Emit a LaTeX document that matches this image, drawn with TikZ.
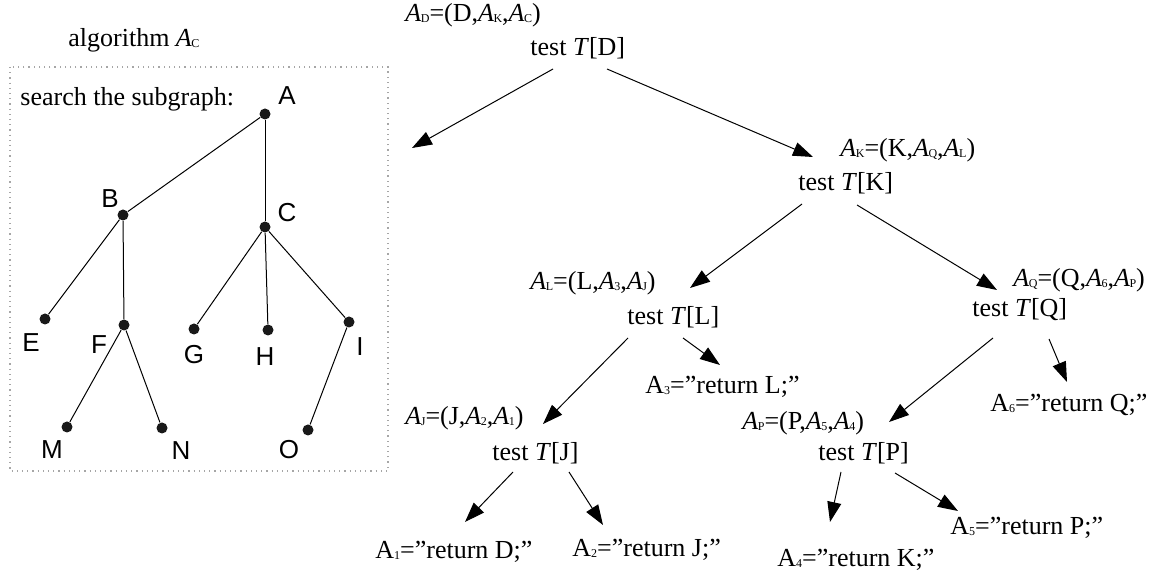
\documentclass[tikz,border=0pt]{standalone}
\usepackage{fontspec}
\setmainfont{Liberation Serif}
\newfontfamily\arialfont{Liberation Sans}
\usepackage{tikz}
\usetikzlibrary{arrows.meta}
% A with a small subscript letter
\newcommand{\Ait}[1]{\textit{A}\kern-0.02em\raisebox{-0.6pt}{\fontsize{6}{6}\selectfont #1}}
\newcommand{\Arm}[1]{A\raisebox{-0.6pt}{\fontsize{6}{6}\selectfont #1}}

\begin{document}
\begin{tikzpicture}[x=0.5pt, y=-0.5pt, font=\fontsize{13}{15}\selectfont,
	txt/.style={anchor=west, inner sep=0pt},
	vtx/.style={circle, fill=black!90, inner sep=0pt, minimum size=5.5pt},
	vlab/.style={inner sep=0pt, font=\arialfont\fontsize{13}{15}\selectfont},
	arr/.style={-{Triangle[length=10pt, width=7pt]}, line width=0.5pt}]
	\useasboundingbox (0,0) rectangle (1167,576);

	% the search algorithm A_C
	\node[txt] (algo) at (68,40) {algorithm \Ait{C}};
	\draw[gray!70, dotted, line width=0.6pt] (10,67) rectangle (388,471);
	\node[txt] (srch) at (20,99) {search the subgraph:};
	\foreach \v/\x/\y in {A/265/114, B/123/215, C/265/227, E/45/319, F/124/325,
		G/194/329, H/268/330, I/349/322, M/67/427, N/162/428, O/308/430}
		\node[vtx] (\v) at (\x,\y) {};
	\foreach \v/\x/\y in {A/287/96, B/110/199, C/287/213, E/31/343, F/99/345,
		G/194/355, H/265/357, I/360/347, M/52/450, N/181/451, O/289/450}
		\node[vlab] (l\v) at (\x,\y) {\v};
	\foreach \a/\b in {A/B, A/C, B/E, B/F, C/G, C/H, C/I, F/M, F/N, I/O}
		\draw[line width=0.5pt] (\a) -- (\b);

	% decision tree
	\node[txt] (aD) at (405,15) {\Ait{D}=(D,\Ait{K},\Ait{C})};
	\node[txt] (tD) at (530,48) {test \textit{T}[D]};
	\node[txt] (aK) at (840,150) {\Ait{K}=(K,\Ait{Q},\Ait{L})};
	\node[txt] (tK) at (798,183) {test \textit{T}[K]};
	\node[txt] (aL) at (530,283) {\Ait{L}=(L,\Ait{3},\Ait{J})};
	\node[txt] (tL) at (627,317) {test \textit{T}[L]};
	\node[txt] (aQ) at (1013,280) {\Ait{Q}=(Q,\Ait{6},\Ait{P})};
	\node[txt] (tQ) at (972,310) {test \textit{T}[Q]};
	\node[txt] (aJ) at (405,418) {\Ait{J}=(J,\Ait{2},\Ait{1})};
	\node[txt] (tJ) at (492,453) {test \textit{T}[J]};
	\node[txt] (aP) at (742,423) {\Ait{P}=(P,\Ait{5},\Ait{4})};
	\node[txt] (tP) at (818,453) {test \textit{T}[P]};
	\node[txt] (r3) at (645,387) {\Arm{3}=”return L;”};
	\node[txt] (r6) at (990,405) {\Arm{6}=”return Q;”};
	\node[txt] (r1) at (375,552) {\Arm{1}=”return D;”};
	\node[txt] (r2) at (572,550) {\Arm{2}=”return J;”};
	\node[txt] (r4) at (777,560) {\Arm{4}=”return K;”};
	\node[txt] (r5) at (950,528) {\Arm{5}=”return P;”};
	\coordinate (open) at (412,148);

	\draw[arr] ([shift={(23,21)}]tD.west) -- (open);
	\draw[arr] ([shift={(77,21)}]tD.west) -- ([shift={(15,-26)}]tK.west);
	\draw[arr] ([shift={(4,21)}]tK.west) -- ([shift={(63,-29)}]tL.west);
	\draw[arr] ([shift={(59,22)}]tK.west) -- ([shift={(25,-20)}]tQ.west);
	\draw[arr] ([shift={(1,21)}]tL.west) -- ([shift={(51,-29)}]tJ.west);
	\draw[arr] ([shift={(56,21)}]tL.west) -- ([shift={(75,-22)}]r3.west);
	\draw[arr] ([shift={(21,28)}]tQ.west) -- ([shift={(71,-31)}]tP.west);
	\draw[arr] ([shift={(77,29)}]tQ.west) -- ([shift={(77,-23)}]r6.west);
	\draw[arr] ([shift={(21,19)}]tJ.west) -- ([shift={(90,-30)}]r1.west);
	\draw[arr] ([shift={(77,19)}]tJ.west) -- ([shift={(31,-25)}]r2.west);
	\draw[arr] ([shift={(23,19)}]tP.west) -- ([shift={(53,-38)}]r4.west);
	\draw[arr] ([shift={(77,20)}]tP.west) -- ([shift={(8,-17)}]r5.west);
\end{tikzpicture}
\end{document}
